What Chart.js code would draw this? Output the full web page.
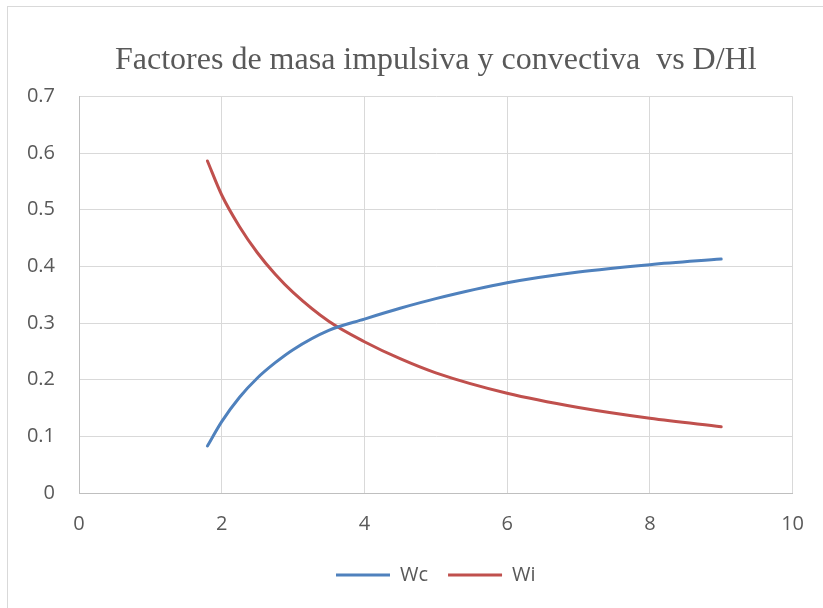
<!DOCTYPE html>
<html>
<head>
<meta charset="utf-8">
<script src="https://cdn.jsdelivr.net/npm/chart.js@4"></script>
<style>
  html, body { margin: 0; padding: 0; background: #fff; }
  #wrap { position: relative; width: 823px; height: 608px; overflow: hidden; }
  #frame { position: absolute; left: 7px; top: 6px; width: 900px; height: 700px;
           border-left: 1px solid #d9d9d9; border-top: 1px solid #d9d9d9; }
  canvas { position: absolute; left: 0; top: 0; }
</style>
</head>
<body>
<div id="wrap">
  <div id="frame"></div>
  <canvas id="chart" width="823" height="608"></canvas>
</div>
<script>
// D/Hl values and factors
const ratios = [1.8, 2, 2.25, 2.5, 2.75, 3, 3.5, 4, 4.5, 5, 6, 7, 8, 9];
const wc = [0.083, 0.126, 0.169, 0.203, 0.230, 0.253, 0.287, 0.307, 0.326, 0.343, 0.371, 0.390, 0.403, 0.413];
const wi = [0.586, 0.526, 0.470, 0.424, 0.386, 0.354, 0.303, 0.267, 0.237, 0.212, 0.176, 0.151, 0.132, 0.117];
const seriesNames = ['Wc', 'Wi'];
const xTicks = [0, 2, 4, 6, 8, 10];
const yTicks = [0, 0.1, 0.2, 0.3, 0.4, 0.5, 0.6, 0.7];

const textColor = '#595959';
const tickFont = { family: 'Open Sans', size: 20 };

const toPoints = (ys) => ratios.map((x, i) => ({ x: x, y: ys[i] }));

const ctx = document.getElementById('chart').getContext('2d');

new Chart(ctx, {
  type: 'scatter',
  data: {
    datasets: [
      {
        label: seriesNames[0],
        data: toPoints(wc),
        showLine: true,
        borderColor: '#4f81bd',
        backgroundColor: '#4f81bd',
        borderWidth: 3,
        borderCapStyle: 'round',
        pointRadius: 0,
        cubicInterpolationMode: 'monotone'
      },
      {
        label: seriesNames[1],
        data: toPoints(wi),
        showLine: true,
        borderColor: '#c0504d',
        backgroundColor: '#c0504d',
        borderWidth: 3,
        borderCapStyle: 'round',
        pointRadius: 0,
        cubicInterpolationMode: 'monotone'
      }
    ]
  },
  options: {
    responsive: false,
    animation: false,
    layout: {
      padding: { left: 0, right: 29, top: 0, bottom: 13 }
    },
    plugins: {
      title: {
        display: true,
        fullSize: false,   // centre over the plot area, not the whole canvas
        text: 'Factores de masa impulsiva y convectiva  vs D/Hl',
        color: textColor,
        font: { family: 'Liberation Serif', size: 32, weight: 'normal' },
        padding: { top: 41, bottom: 17 }
      },
      legend: {
        position: 'bottom',
        fullSize: false,
        labels: {
          color: textColor,
          font: tickFont,
          usePointStyle: true,
          pointStyle: 'line',
          pointStyleWidth: 54,
          padding: 20
        }
      },
      tooltip: { enabled: false }
    },
    scales: {
      x: {
        type: 'linear',
        min: 0,
        max: 10,
        afterBuildTicks: (axis) => { axis.ticks = xTicks.map(v => ({ value: v })); },
        afterFit: (axis) => { axis.height = 52; },
        ticks: { color: textColor, font: tickFont, padding: 19 },
        grid: { color: '#d9d9d9', drawTicks: false },
        border: { color: '#bfbfbf' }
      },
      y: {
        type: 'linear',
        min: 0,
        max: 0.7,
        afterBuildTicks: (axis) => { axis.ticks = yTicks.map(v => ({ value: v })); },
        afterFit: (axis) => { axis.width = 79; },
        ticks: { color: textColor, font: tickFont, padding: 24 },
        grid: { color: '#d9d9d9', drawTicks: false },
        border: { color: '#bfbfbf' }
      }
    }
  }
});
</script>
</body>
</html>
